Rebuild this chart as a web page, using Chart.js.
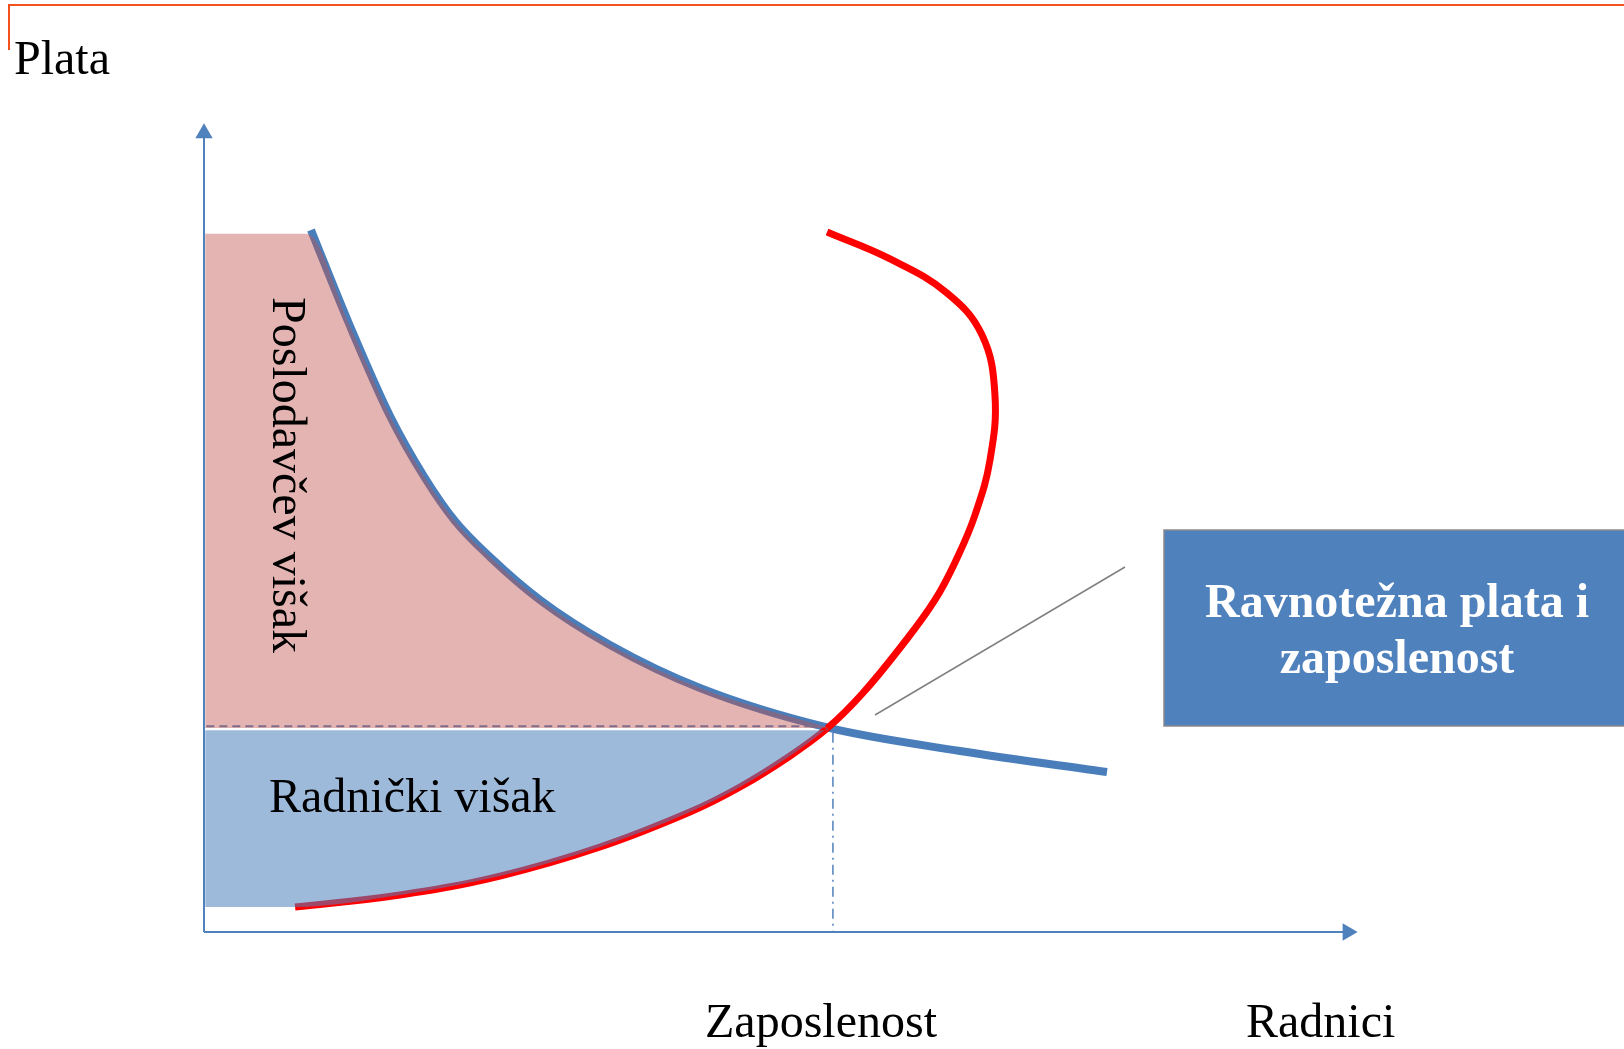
<!DOCTYPE html>
<html lang="sr">
<head>
<meta charset="utf-8">
<title>Ravnotežna plata i zaposlenost</title>
<script src="https://cdn.jsdelivr.net/npm/chart.js@4.4.1/dist/chart.umd.min.js"></script>
<style>
  html, body { margin: 0; padding: 0; background: #fff; }
  #wrap { position: relative; width: 1624px; height: 1049px; }
</style>
</head>
<body>
<div id="wrap"><canvas id="chart"></canvas></div>
<script>
  // x = radnici, y = plata (obe ose 0-100)
  const demandX = [9.27, 12.65, 16.12, 19.15, 21.75, 24.78, 29.12, 35.18, 42.98, 54.07, 65.51, 78.25];
  const demandY = [86.67, 74.81, 63.70, 56.05, 50.74, 46.30, 40.99, 35.43, 30.12, 25.22, 22.35, 19.75];

  const supplyX = [7.89, 16.98, 25.65, 34.32, 42.11, 46.45, 50.78, 54.07, 57.02, 60.31, 63.34, 65.34, 66.81, 68.11, 68.54, 67.42, 64.38, 59.45, 53.99];
  const supplyY = [3.09, 4.57, 6.91, 10.49, 14.81, 17.90, 21.73, 25.22, 29.38, 35.06, 40.99, 46.42, 51.48, 58.27, 66.30, 73.70, 78.89, 83.09, 86.42];

  const eqX = 54.07;
  const eqWage = 25.2;
  const employerTop = 86.2;   // gornja ivica poslodavčevog viška
  const workerTop = 24.9;

  const axisLabels = { y: 'Plata', x: 'Radnici', eq: 'Zaposlenost' };
  const areaLabels = ['Poslodavčev višak', 'Radnički višak'];
  const boxLines = ['Ravnotežna plata i', 'zaposlenost'];

  const toPts = (xs, ys) => xs.map((x, i) => ({ x, y: ys[i] }));

  const demand = toPts(demandX, demandY);
  const supply = toPts(supplyX, supplyY);

  const employerArea = [{ x: 0.1, y: employerTop }, { x: 8.9, y: employerTop }]
    .concat(demand.filter((p, i) => i > 0 && p.x <= eqX));
  const workerArea = [{ x: 0.1, y: supplyY[0] }]
    .concat(supply.filter(p => p.x <= eqX && p.y <= 25.3));

  const BLUE = '#4a7ebb';

  const decor = {
    id: 'decor',
    beforeDraw(chart) {
      const ctx = chart.ctx;
      ctx.save();
      ctx.strokeStyle = '#f4511e';
      ctx.lineWidth = 2;
      ctx.beginPath();
      ctx.moveTo(9, 50);
      ctx.lineTo(9, 5);
      ctx.lineTo(1624, 5);
      ctx.stroke();
      ctx.restore();
    },
    afterDraw(chart) {
      const ctx = chart.ctx;
      ctx.save();
      ctx.fillStyle = '#000';
      ctx.textBaseline = 'alphabetic';
      ctx.font = '48px "Liberation Serif", "Times New Roman", serif';
      ctx.textAlign = 'left';
      ctx.fillText(axisLabels.y, 14, 74);
      ctx.fillText(axisLabels.eq, 705, 1037);
      ctx.fillText(axisLabels.x, 1246, 1037);
      ctx.fillText(areaLabels[1], 269, 812);

      ctx.save();
      ctx.translate(273, 297);
      ctx.rotate(Math.PI / 2);
      ctx.fillText(areaLabels[0], 0, 0);
      ctx.restore();

      // linija do okvira
      ctx.strokeStyle = '#808080';
      ctx.lineWidth = 1.5;
      ctx.beginPath();
      ctx.moveTo(875, 715);
      ctx.lineTo(1125, 567);
      ctx.stroke();

      // okvir sa tekstom
      ctx.fillStyle = '#4f81bd';
      ctx.fillRect(1164, 530, 480, 196);
      ctx.strokeStyle = '#8a8a8a';
      ctx.strokeRect(1164, 530, 480, 196);
      ctx.fillStyle = '#fff';
      ctx.textAlign = 'center';
      ctx.font = 'bold 48px "Liberation Serif", "Times New Roman", serif';
      ctx.fillText(boxLines[0], 1397, 617);
      ctx.fillText(boxLines[1], 1397, 673);
      ctx.restore();
    }
  };

  new Chart(document.getElementById('chart'), {
    type: 'scatter',
    data: {
      datasets: [
        {
          label: 'employer',
          data: employerArea,
          showLine: true, borderWidth: 0, cubicInterpolationMode: 'monotone',
          backgroundColor: 'rgba(192,80,77,0.43)',
          fill: { value: eqWage },
          order: 0
        },
        {
          label: 'worker',
          data: workerArea,
          showLine: true, borderWidth: 0, cubicInterpolationMode: 'monotone',
          backgroundColor: 'rgba(79,129,189,0.55)',
          fill: { value: workerTop },
          order: 1
        },
        {
          label: 'wageLine',
          data: [{ x: 0.2, y: 25.4 }, { x: eqX, y: 25.4 }],
          showLine: true, borderColor: '#4f81bd', borderWidth: 2, borderDash: [8, 5],
          order: 2
        },
        {
          label: 'empLine',
          data: [{ x: 54.5, y: 24.6 }, { x: 54.5, y: 0 }],
          showLine: true, borderColor: '#4f81bd', borderWidth: 1.5, borderDash: [10, 5, 2, 5],
          order: 3
        },
        {
          label: 'demand',
          data: demand,
          showLine: true, borderColor: BLUE, borderWidth: 8, cubicInterpolationMode: 'monotone',
          order: 5
        },
        {
          label: 'supply',
          data: supply,
          showLine: true, borderColor: '#ff0000', borderWidth: 7, tension: 0.4,
          order: 4
        },
        {
          label: 'yAxis',
          data: [{ x: 0, y: 0 }, { x: 0, y: 98.6 }],
          showLine: true, borderColor: '#4f81bd', borderWidth: 2,
          pointStyle: 'triangle', pointRadius: [0, 10], pointRotation: 0,
          pointBackgroundColor: '#4f81bd', pointBorderWidth: 0,
          order: 6
        },
        {
          label: 'xAxis',
          data: [{ x: 0, y: 0 }, { x: 99.1, y: 0 }],
          showLine: true, borderColor: '#4f81bd', borderWidth: 2,
          pointStyle: 'triangle', pointRadius: [0, 10], pointRotation: 90,
          pointBackgroundColor: '#4f81bd', pointBorderWidth: 0,
          order: 6
        }
      ]
    },
    options: {
      responsive: true,
      maintainAspectRatio: false,
      animation: false,
      devicePixelRatio: 1,
      clip: false,
      layout: { padding: { left: 204, right: 266, top: 122, bottom: 117 } },
      elements: { point: { radius: 0, hoverRadius: 0 } },
      plugins: { legend: { display: false }, tooltip: { enabled: false } },
      scales: {
        x: { type: 'linear', min: 0, max: 100, display: false },
        y: { type: 'linear', min: 0, max: 100, display: false }
      }
    },
    plugins: [decor]
  });
</script>
</body>
</html>
